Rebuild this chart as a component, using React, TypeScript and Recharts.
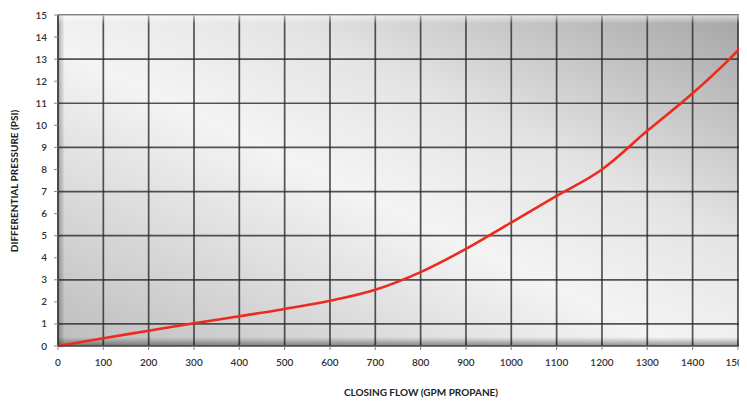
import React from "react";
import {
  CartesianGrid,
  Customized,
  Line,
  LineChart,
  ReferenceArea,
  XAxis,
  YAxis,
} from "recharts";

const flowGpm = [0, 100, 200, 300, 400, 500, 600, 700, 800, 900, 1000, 1100, 1200, 1300, 1400, 1500, 1520];
const pressurePsi = [0, 0.35, 0.69, 1.03, 1.35, 1.68, 2.05, 2.55, 3.35, 4.4, 5.6, 6.8, 8.0, 9.75, 11.45, 13.4, 13.85];

const xTicks = [0, 100, 200, 300, 400, 500, 600, 700, 800, 900, 1000, 1100, 1200, 1300, 1400, 1500];
const yTicks = [0, 1, 2, 3, 4, 5, 6, 7, 8, 9, 10, 11, 12, 13, 14, 15];

const data = flowGpm.map((flow, i) => ({ flow, psi: pressurePsi[i] }));

const tickStyle = { fontFamily: "Lato, 'Open Sans', sans-serif", fontSize: 10, fill: "#333", fontWeight: 600 };

const AxisTitles = () => (
  <g style={{ fontFamily: "Lato, 'Open Sans', sans-serif", fontSize: 10, fontWeight: 700, fill: "#222" }}>
    <text x={413} y={388} textAnchor="middle">
      CLOSING FLOW (GPM PROPANE)
    </text>
    <text x={10} y={173} textAnchor="middle" transform="rotate(-90 10 173)">
      DIFFERENTIAL PRESSURE (PSI)
    </text>
  </g>
);

export default function App() {
  return (
    <div style={{ width: 739, height: 394 }}>
      <LineChart width={739} height={394} data={data} margin={{ top: 7, right: 0, bottom: 0, left: 0 }}>
        <defs>
          <linearGradient id="plotBg" x1="0" y1="1" x2="1" y2="0">
            <stop offset="0%" stopColor="#bdbdbd" />
            <stop offset="45%" stopColor="#f4f4f4" />
            <stop offset="65%" stopColor="#e4e4e4" />
            <stop offset="100%" stopColor="#a4a4a4" />
          </linearGradient>
          <linearGradient id="bottomShade" x1="0" y1="0" x2="0" y2="1">
            <stop offset="0%" stopColor="#000" stopOpacity={0} />
            <stop offset="100%" stopColor="#000" stopOpacity={0.4} />
          </linearGradient>
          <linearGradient id="leftShade" x1="1" y1="0" x2="0" y2="0">
            <stop offset="0%" stopColor="#000" stopOpacity={0} />
            <stop offset="100%" stopColor="#000" stopOpacity={0.3} />
          </linearGradient>
          <linearGradient id="topShine" x1="0" y1="0" x2="0" y2="1">
            <stop offset="0%" stopColor="#fff" stopOpacity={0.6} />
            <stop offset="100%" stopColor="#fff" stopOpacity={0} />
          </linearGradient>
        </defs>
        <CartesianGrid
          fill="url(#plotBg)"
          fillOpacity={1}
          stroke="#2b2b2b"
          strokeWidth={1.7}
          strokeOpacity={0.8}
          horizontalValues={yTicks}
          verticalValues={xTicks}
        />
        <ReferenceArea x1={0} x2={1520} y1={0} y2={0.4} fill="url(#bottomShade)" fillOpacity={1} stroke="none" ifOverflow="hidden" />
        <ReferenceArea x1={0} x2={15} y1={0} y2={15} fill="url(#leftShade)" fillOpacity={1} stroke="none" ifOverflow="hidden" />
        <ReferenceArea x1={0} x2={1520} y1={14.6} y2={15} fill="url(#topShine)" fillOpacity={1} stroke="none" ifOverflow="hidden" />
        <XAxis
          type="number"
          dataKey="flow"
          domain={[0, 1520]}
          ticks={xTicks}
          allowDataOverflow
          height={56}
          tickSize={4}
          tickMargin={9}
          axisLine={{ stroke: "#444", strokeWidth: 1.5 }}
          tickLine={{ stroke: "#888" }}
          tick={tickStyle}
        />
        <YAxis
          type="number"
          domain={[0, 15]}
          ticks={yTicks}
          width={50}
          tickSize={4}
          tickMargin={7}
          axisLine={{ stroke: "#444", strokeWidth: 1.5 }}
          tickLine={{ stroke: "#888" }}
          tick={tickStyle}
        />
        <Line
          type="monotone"
          dataKey="psi"
          stroke="#ee2a1f"
          strokeWidth={2.6}
          dot={false}
          isAnimationActive={false}
        />
        <Customized component={AxisTitles} />
      </LineChart>
    </div>
  );
}
